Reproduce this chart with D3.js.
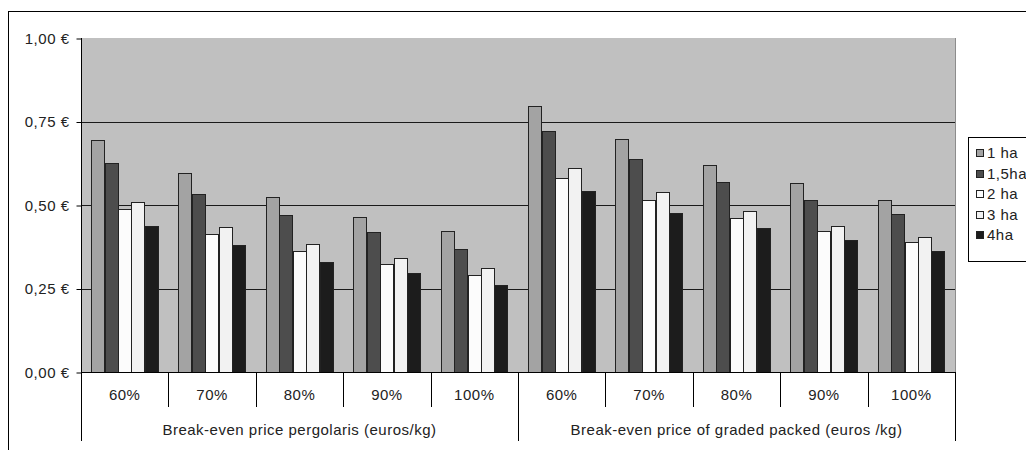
<!DOCTYPE html>
<html><head><meta charset="utf-8">
<script src="https://cdn.jsdelivr.net/npm/d3@7"></script>
<style>body{margin:0;background:#fff}svg{display:block;font-family:"Liberation Sans",Arial,sans-serif}text{letter-spacing:0.5px}</style>
</head><body><svg id="c" width="1026" height="450"></svg>
<script>
const groups = ["Break-even price pergolaris (euros/kg)", "Break-even price of graded packed (euros /kg)"];
const categories = ["60%", "70%", "80%", "90%", "100%"];
const seriesNames = ["1 ha", "1,5ha", "2 ha", "3 ha", "4ha"];
const s1ha  = [0.695, 0.597, 0.524, 0.463, 0.421, 0.795, 0.699, 0.620, 0.565, 0.514];
const s15ha = [0.627, 0.534, 0.469, 0.418, 0.369, 0.722, 0.637, 0.569, 0.514, 0.473];
const s2ha  = [0.487, 0.414, 0.363, 0.322, 0.291, 0.582, 0.514, 0.462, 0.421, 0.390];
const s3ha  = [0.510, 0.435, 0.383, 0.342, 0.311, 0.610, 0.538, 0.483, 0.438, 0.405];
const s4ha  = [0.438, 0.380, 0.329, 0.295, 0.260, 0.542, 0.476, 0.432, 0.394, 0.363];
const yTicks = [0, 0.25, 0.5, 0.75, 1.0];
const yTickLabels = ["0,00 €", "0,25 €", "0,50 €", "0,75 €", "1,00 €"];

const seriesValues = [s1ha, s15ha, s2ha, s3ha, s4ha];
const colors = ["#a3a3a3", "#4d4d4d", "#fcfcfc", "#f2f2f2", "#1c1c1c"];

const svg = d3.select("#c");
const L = 81, R = 955, T = 38, B = 372;
const FS = 15;

// outer border
svg.append("rect").attr("x", 8.5).attr("y", 11.5).attr("width", 1100).attr("height", 600)
  .attr("fill", "#fff").attr("stroke", "#000");

const keys = [];
groups.forEach((g, gi) => categories.forEach(c => keys.push(gi + "|" + c)));

const x0 = d3.scaleBand().domain(keys).range([L, R]).paddingInner(0).paddingOuter(0);
const x1 = d3.scaleBand().domain(d3.range(seriesNames.length)).range([0, x0.bandwidth()]).paddingInner(0).paddingOuter(0.75);
const y = d3.scaleLinear().domain([0, 1]).range([B, T]);

// plot background
svg.append("rect").attr("x", L).attr("y", T).attr("width", R - L).attr("height", B - T).attr("fill", "#c0c0c0");

// gridlines
svg.append("g").selectAll("line").data(yTicks.filter(t => t > 0 && t < 1)).join("line")
  .attr("x1", L).attr("x2", R).attr("y1", d => Math.round(y(d)) + 0.5).attr("y2", d => Math.round(y(d)) + 0.5)
  .attr("stroke", "#1a1a1a").attr("stroke-width", 1);

// right border of plot
svg.append("line").attr("x1", R + 0.5).attr("x2", R + 0.5).attr("y1", T).attr("y2", B).attr("stroke", "#8c8c8c");

// bars
const barData = [];
seriesValues.forEach((vals, si) => vals.forEach((v, ci) => barData.push({ si, key: keys[ci], v })));
svg.append("g").selectAll("rect").data(barData).join("rect")
  .attr("x", d => Math.round(x0(d.key) + x1(d.si)) + 0.5)
  .attr("y", d => Math.round(y(d.v)) + 0.5)
  .attr("width", Math.round(x1.bandwidth()) )
  .attr("height", d => Math.round(B - y(d.v)))
  .attr("fill", d => colors[d.si])
  .attr("stroke", "#222").attr("stroke-width", 1);

// y axis
const yAxis = svg.append("g").attr("transform", `translate(${L + 0.5},0.5)`)
  .call(d3.axisLeft(y).tickValues(yTicks).tickSize(5).tickPadding(7).tickFormat((d, i) => yTickLabels[i]));
yAxis.select(".domain").remove();
yAxis.selectAll(".tick line").attr("stroke", "#000");
yAxis.selectAll("text").attr("font-size", FS).attr("fill", "#222").attr("font-family", "Liberation Sans, Arial, sans-serif");
svg.append("line").attr("x1", L + 0.5).attr("x2", L + 0.5).attr("y1", T).attr("y2", 441).attr("stroke", "#000");

// x axis baseline
svg.append("line").attr("x1", L).attr("x2", R + 1).attr("y1", B + 0.5).attr("y2", B + 0.5).attr("stroke", "#000");

// category ticks and labels
const xg = svg.append("g");
keys.forEach((k, i) => {
  const xs = x0(k);
  const isGroupStart = i % categories.length === 0;
  if (i > 0) {
    xg.append("line").attr("x1", Math.round(xs) + 0.5).attr("x2", Math.round(xs) + 0.5)
      .attr("y1", B).attr("y2", isGroupStart ? 441 : 407).attr("stroke", "#000");
  }
  xg.append("text").attr("x", xs + x0.bandwidth() / 2).attr("y", 400)
    .attr("text-anchor", "middle").attr("font-size", FS).attr("fill", "#222").text(k.split("|")[1]);
});
svg.append("line").attr("x1", R + 0.5).attr("x2", R + 0.5).attr("y1", B).attr("y2", 441).attr("stroke", "#000");

// group labels
groups.forEach((g, gi) => {
  const a = x0(gi + "|" + categories[0]);
  const b = x0(gi + "|" + categories[categories.length - 1]) + x0.bandwidth();
  svg.append("text").attr("x", (a + b) / 2).attr("y", 435).attr("text-anchor", "middle")
    .attr("font-size", FS).attr("fill", "#222").text(g);
});

// legend
const lg = svg.append("g");
lg.append("rect").attr("x", 968.5).attr("y", 137.5).attr("width", 100).attr("height", 124)
  .attr("fill", "#fff").attr("stroke", "#000");
seriesNames.forEach((n, i) => {
  const cy = 153 + i * 20.6;
  lg.append("rect").attr("x", 976.5).attr("y", Math.round(cy - 4) + 0.5).attr("width", 7).attr("height", 7)
    .attr("fill", colors[i]).attr("stroke", "#222");
  lg.append("text").attr("x", 987).attr("y", cy + 5).attr("font-size", FS).attr("fill", "#222").text(n);
});
</script></body></html>
